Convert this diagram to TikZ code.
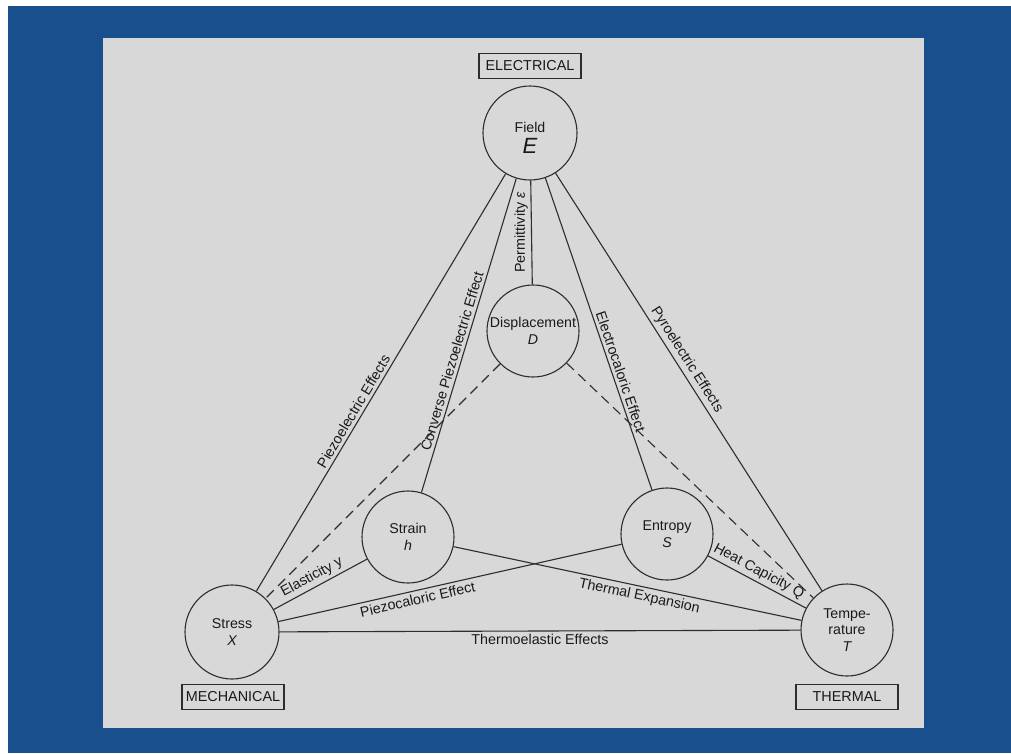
\documentclass[tikz,border=0pt]{standalone}
\usepackage{fontspec}
\setmainfont{Liberation Sans}
\definecolor{bluebg}{RGB}{26,79,142}
\definecolor{graybg}{RGB}{216,216,216}
\definecolor{linec}{RGB}{45,45,45}
\definecolor{txt}{RGB}{25,25,25}
\begin{document}
\begin{tikzpicture}[x=1pt,y=-1pt,
  circ/.style={circle, draw=linec, line width=1.1pt, minimum size=94pt, inner sep=0pt,
    align=center, text=txt, font=\fontsize{14.2}{16.5}\selectfont},
  ctext/.style={align=center, text=txt, inner sep=0pt, font=\fontsize{14.2}{16.5}\selectfont},
  dom/.style={draw=linec, line width=1.1pt, minimum width=102pt, minimum height=25pt,
    inner sep=0pt, text=txt, font=\fontsize{14.4}{16}\selectfont},
  conn/.style={draw=linec, line width=1.1pt},
  dashconn/.style={conn, dash pattern=on 10pt off 6pt},
  lab/.style={font=\fontsize{14.3}{16}\selectfont, text=txt, inner sep=3pt}
]
\useasboundingbox (0,0) rectangle (1011,753);
\fill[white] (0,0) rectangle (1011,753);
\fill[bluebg] (8,6) rectangle (1011,753);
\fill[graybg] (103,38) rectangle (924,728);

% nodes
\node[circ] (F) at (530,133) {};
\node[ctext] (Ft) at (530,138) {Field\\[5pt]{\fontsize{22}{22}\selectfont\itshape E}};
\node[circ, minimum size=92pt] (D) at (533,331) {Displacement\\{\itshape D}};
\node[circ, minimum size=92pt] (H) at (408,537) {Strain\\{\itshape h}};
\node[circ, minimum size=92pt] (S) at (667,534) {Entropy\\{\itshape S}};
\node[circ] (X) at (232,632) {Stress\\{\itshape X}};
\node[circ, minimum size=92pt] (T) at (847,630) {Tempe-\\rature\\{\itshape T}};

\node[dom] (el) at (530,66) {ELECTRICAL};
\node[dom] (me) at (233,697) {MECHANICAL};
\node[dom] (th) at (847,697) {THERMAL};

% connectors
\draw[conn] (F) -- node[lab, sloped, above, pos=0.58] {Piezoelectric Effects} (X);
\draw[conn] (F) -- node[lab, sloped, above, pos=0.59] {Converse Piezoelectric Effect} (H);
\draw[conn] (F) -- node[lab, rotate=90, anchor=south, pos=0.5] {Permittivity {\itshape ε}} (D);
\draw[conn] (F) -- node[lab, sloped, above, pos=0.63] {Electrocaloric Effect} (S);
\draw[conn] (F) -- node[lab, sloped, above, pos=0.46] {Pyroelectric Effects} (T);
\draw[dashconn] (D) -- (X);
\draw[dashconn] (D) -- (T);
\draw[conn] (X) -- node[lab, sloped, above, pos=0.46] {Elasticity y} (H);
\draw[conn] (X) -- node[lab, sloped, below, pos=0.4] {Piezocaloric Effect} (S);
\draw[conn] (H) -- node[lab, sloped, below, pos=0.54] {Thermal Expansion} (T);
\draw[conn] (S) -- node[lab, sloped, above, pos=0.47] {Heat Capicity Q} (T);
\draw[conn] (X) -- node[lab, below, pos=0.5] {Thermoelastic Effects} (T);
\end{tikzpicture}
\end{document}
